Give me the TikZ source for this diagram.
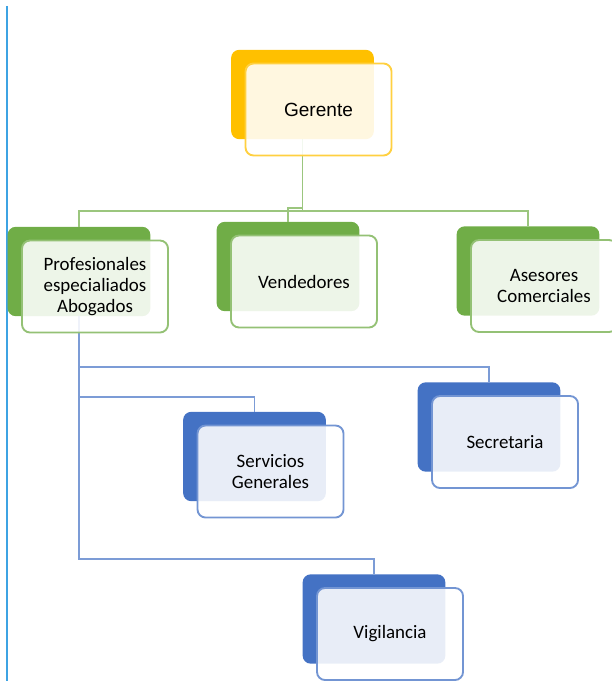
\documentclass[tikz,border=0pt]{standalone}
\usepackage{fontspec}
\setmainfont{Carlito}
\newfontfamily\arialfont{Liberation Sans}

\definecolor{orgOrange}{HTML}{FFC000}
\definecolor{orgGreen}{HTML}{70AD47}
\definecolor{orgBlue}{HTML}{4472C4}
\definecolor{marginBlue}{HTML}{3DA3E3}

\begin{document}
\begin{tikzpicture}[x=0.75pt, y=-0.75pt, font=\fontsize{14.2}{15.5}\selectfont,
    backbox/.style={rounded corners=6pt, minimum width=107pt, minimum height=67pt,
        inner sep=0pt, fill=#1},
    frontbox/.style={rounded corners=6pt, minimum width=109.5pt, minimum height=69pt,
        inner sep=0pt, align=center, fill=white, fill opacity=0.88, text opacity=1,
        draw=#1!75!white, line width=1.4pt},
    link/.style={draw=#1!70!white, line width=1.4pt}]

        \useasboundingbox (0,0) rectangle (611,681);

        % ==========================================
        % 1. Linea de margen
        % ==========================================
        \draw[marginBlue, line width=1.5pt] (6.5,6) -- (6.5,681);

        % ==========================================
        % 2. Cajas de fondo
        % ==========================================
        \node[backbox=orgOrange] (gerenteBack) at (302.5,94.5) {};
        \node[backbox=orgGreen] (profBack) at (79,271.5) {};
        \node[backbox=orgGreen] (vendBack) at (288,266.5) {};
        \node[backbox=orgGreen] (asesBack) at (528,271) {};
        \node[backbox=orgBlue] (servBack) at (254.5,456.5) {};
        \node[backbox=orgBlue] (secrBack) at (489,427) {};
        \node[backbox=orgBlue] (vigBack) at (374,619) {};

        % ==========================================
        % 3. Conectores verdes (Gerente)
        % ==========================================
        \coordinate (busGreen) at (302.5,211);
        \coordinate (jogGreen) at (302.5,208);
        \draw[link=orgGreen] (gerenteBack.south) -- (busGreen);
        \draw[link=orgGreen] (profBack.north) |- (busGreen) -| (asesBack.north);
        \draw[link=orgGreen] (jogGreen) -| (vendBack.north);

        % ==========================================
        % 4. Conectores azules (Profesionales)
        % ==========================================
        \coordinate (busSecr) at (79,367);
        \coordinate (busServ) at (79,397);
        \coordinate (busVig) at (79,559);
        \draw[link=orgBlue] (profBack.south) -- (busVig) -| (vigBack.north);
        \draw[link=orgBlue] (busSecr) -| (secrBack.north);
        \draw[link=orgBlue] (busServ) -| (servBack.north);

        % ==========================================
        % 5. Cajas de texto
        % ==========================================
        \node[frontbox=orgOrange, font=\arialfont\fontsize{14.3}{16}\selectfont]
            (gerente) at (318.5,109.5) {Gerente};
        \node[frontbox=orgGreen] (prof) at (95,286.5)
            {Profesionales\\especialiados\\Abogados};
        \node[frontbox=orgGreen] (vend) at (304,281.5) {Vendedores};
        \node[frontbox=orgGreen] (ases) at (544,286) {Asesores\\Comerciales};
        \node[frontbox=orgBlue] (serv) at (270.5,471.5) {Servicios\\Generales};
        \node[frontbox=orgBlue] (secr) at (505,442) {Secretaria};
        \node[frontbox=orgBlue] (vig) at (390,634) {Vigilancia};

    \end{tikzpicture}
\end{document}
